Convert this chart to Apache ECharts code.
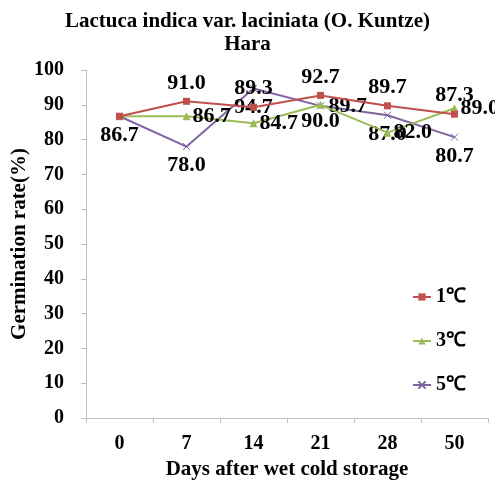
<!DOCTYPE html>
<html>
<head>
<meta charset="utf-8">
<script src="https://cdn.jsdelivr.net/npm/echarts@6/dist/echarts.min.js"></script>
<style>
html,body{margin:0;padding:0;background:#fff;}
#chart{width:495px;height:481px;}
</style>
</head>
<body>
<div id="chart"></div>
<script>
// Germination rate after wet cold storage, by storage temperature
const days = ['0', '7', '14', '21', '28', '50'];
const seriesNames = ['1℃', '3℃', '5℃'];
const rate1 = [86.7, 91.0, 89.3, 92.7, 89.7, 87.3];
const rate3 = [86.7, 86.7, 84.7, 90.0, 82.0, 89.0];
const rate5 = [86.7, 78.0, 94.7, 89.7, 87.0, 80.7];

const FONT = '"Liberation Serif", "Times New Roman", serif';
const labelStyle = {
  show: true,
  fontFamily: FONT,
  fontWeight: 'bold',
  fontSize: 22,
  color: '#000',
  distance: 4,
  formatter: p => p.value.toFixed(1)
};

// per-point label placement
function withLabels(values, pos, overrides) {
  return values.map((v, i) => {
    const o = overrides[i];
    if (o === false) return { value: v, label: { show: false } };
    return { value: v, label: { position: o || pos } };
  });
}

const chart = echarts.init(document.getElementById('chart'));
chart.setOption({
  animation: false,
  backgroundColor: '#fff',
  title: {
    text: 'Lactuca indica var. laciniata (O. Kuntze)\nHara',
    left: 'center',
    top: 5,
    textStyle: { fontFamily: FONT, fontWeight: 'bold', fontSize: 21, color: '#000', lineHeight: 23 }
  },
  legend: {
    orient: 'vertical',
    left: 407,
    top: 282,
    itemGap: 24,
    itemWidth: 18,
    itemHeight: 9,
    textStyle: { fontFamily: FONT, fontWeight: 'bold', fontSize: 20, color: '#000' },
    data: seriesNames
  },
  grid: { left: 86, right: 7, top: 70, bottom: 63, containLabel: false, outerBoundsMode: 'none' },
  xAxis: {
    type: 'category',
    data: days,
    boundaryGap: true,
    name: 'Days after wet cold storage',
    nameLocation: 'middle',
    nameGap: 40,
    nameTextStyle: { fontFamily: FONT, fontWeight: 'bold', fontSize: 21, color: '#000' },
    axisLine: { lineStyle: { color: '#bfbfbf' } },
    axisTick: { show: true, length: 5, lineStyle: { color: '#bfbfbf' } },
    axisLabel: { fontFamily: FONT, fontWeight: 'bold', fontSize: 20, color: '#000', margin: 16 },
    splitLine: { show: false }
  },
  yAxis: {
    type: 'value',
    min: 0,
    max: 100,
    interval: 10,
    name: 'Germination rate(%)',
    nameLocation: 'middle',
    nameGap: 56,
    nameMoveOverlap: false,
    nameTextStyle: { fontFamily: FONT, fontWeight: 'bold', fontSize: 21, color: '#000' },
    axisLine: { show: true, lineStyle: { color: '#bfbfbf' } },
    axisTick: { show: true, length: 5, lineStyle: { color: '#bfbfbf' } },
    axisLabel: { fontFamily: FONT, fontWeight: 'bold', fontSize: 20, color: '#000', margin: 22 },
    splitLine: { show: false }
  },
  series: [
    {
      name: seriesNames[0],
      type: 'line',
      data: withLabels(rate1, 'top', [false]),
      color: '#c0504d',
      symbol: 'rect',
      symbolSize: 7,
      lineStyle: { width: 2 },
      label: labelStyle,
      z: 3
    },
    {
      name: seriesNames[1],
      type: 'line',
      data: withLabels(rate3, 'right', [false, null, null, 'bottom']),
      color: '#9bbb59',
      symbol: 'triangle',
      symbolSize: 8,
      lineStyle: { width: 2 },
      label: Object.assign({}, labelStyle, { distance: 2 }),
      z: 2
    },
    {
      name: seriesNames[2],
      type: 'line',
      data: withLabels(rate5, 'bottom', [null, null, null, 'right']),
      color: '#8064a2',
      symbol: 'path://M0,0L10,10M10,0L0,10',
      symbolSize: 7,
      itemStyle: { borderColor: '#8064a2', borderWidth: 1 },
      lineStyle: { width: 2 },
      label: labelStyle,
      z: 1
    }
  ]
});
</script>
</body>
</html>
